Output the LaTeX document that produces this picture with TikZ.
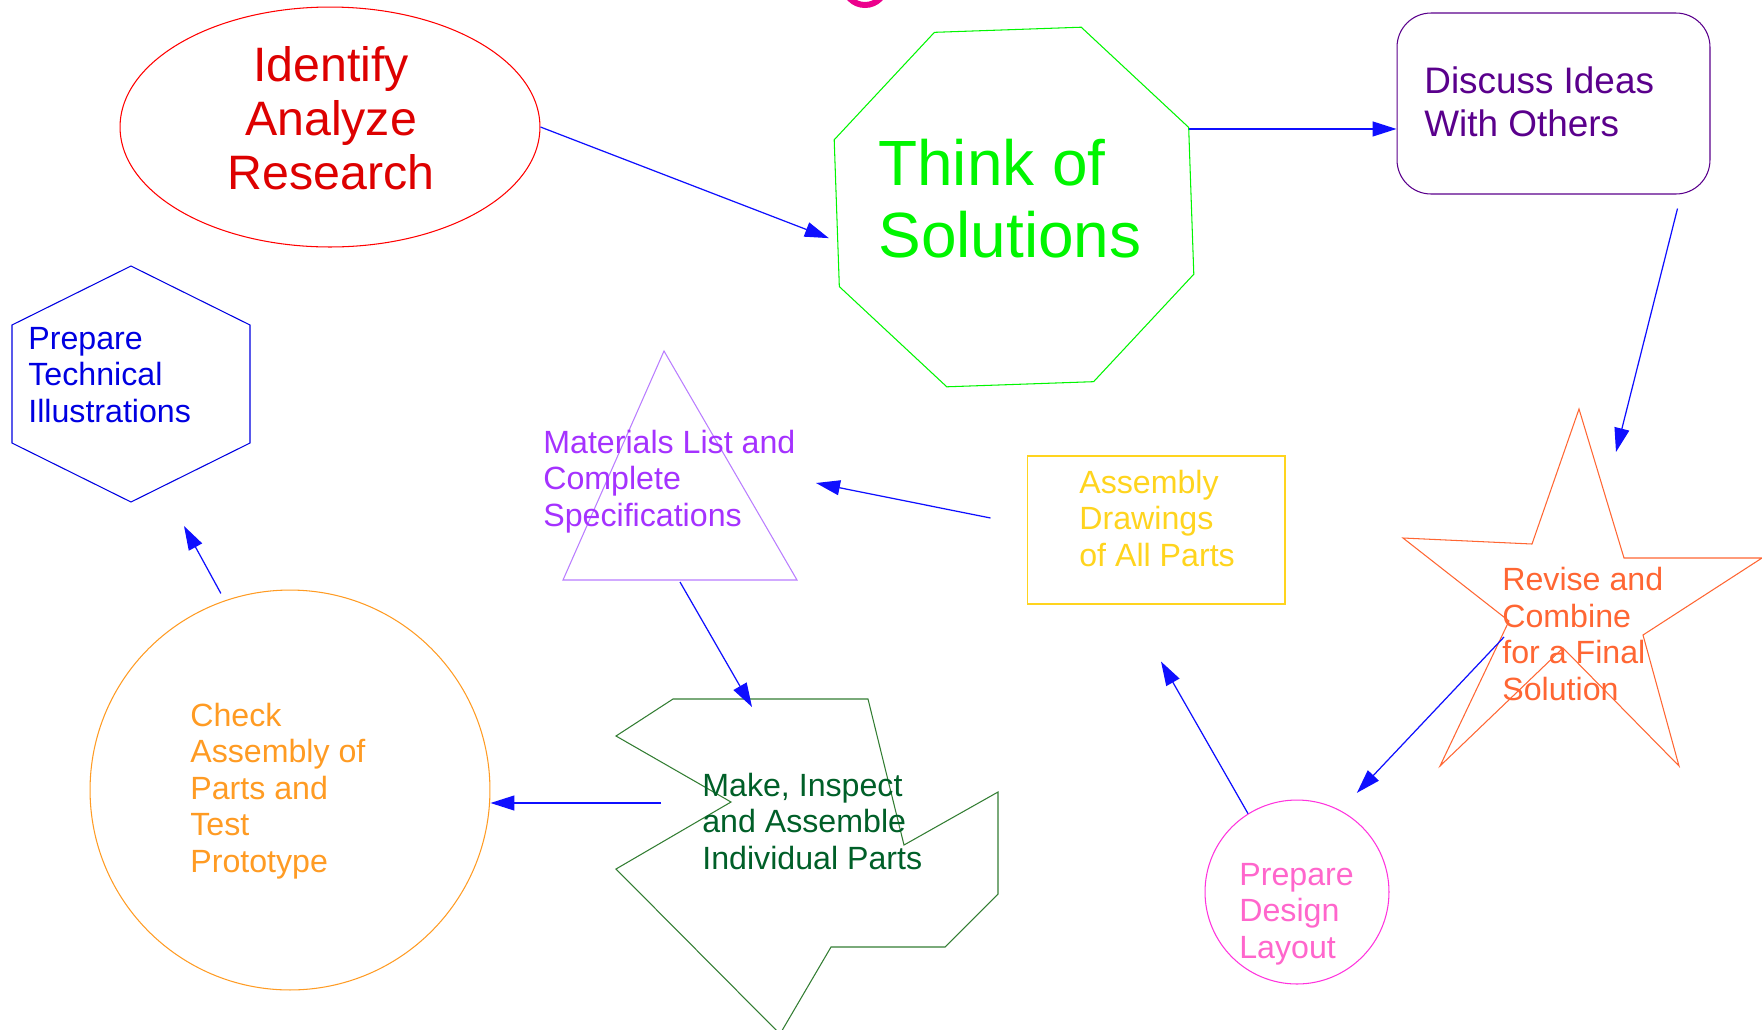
\documentclass[tikz,border=0pt]{standalone}
\usepackage{fontspec}
\setmainfont{Liberation Sans}
\usepackage{xcolor}
\usepackage{tikz}
\usetikzlibrary{arrows.meta,shapes.geometric}

\definecolor{idnred}{RGB}{221,0,0}
\definecolor{solgreen}{RGB}{0,245,0}
\definecolor{discpurple}{RGB}{90,0,140}
\definecolor{revorange}{RGB}{255,102,51}
\definecolor{drwgold}{RGB}{255,212,30}
\definecolor{matviolet}{RGB}{165,50,255}
\definecolor{matline}{RGB}{185,125,255}
\definecolor{illblue}{RGB}{0,0,225}
\definecolor{chkorange}{RGB}{255,155,35}
\definecolor{makgreen}{RGB}{0,95,40}
\definecolor{makline}{RGB}{50,125,50}
\definecolor{laypink}{RGB}{255,102,204}
\definecolor{layline}{RGB}{255,51,221}
\definecolor{flowblue}{RGB}{15,15,255}

\begin{document}
\begin{tikzpicture}[x=0.02cm, y=-0.02cm,
  outline/.style={line width=0.6pt},
  flow/.style={draw=flowblue, line width=0.7pt, -{Triangle[length=0.48cm,width=0.30cm]}},
  txt/.style={anchor=base west, align=left, inner sep=0pt, font=\fontsize{18.3pt}{20.7pt}\selectfont}]
\useasboundingbox (0,0) rectangle (1762,1029);
\clip (0,0) rectangle (1762,1029);

% Shapes
\draw[magenta, line width=0.12cm] (865,-16) circle[radius=21];
\node[draw=red, outline, ellipse, minimum width=8.4cm, minimum height=4.8cm] (idn) at (330,127) {};
\node[draw=solgreen, outline, regular polygon, regular polygon sides=8, shape border rotate=2, minimum size=7.68cm, inner sep=0pt] (sol) at (1014,207) {};
\node[draw=discpurple, outline, rounded corners=0.68cm, minimum width=6.26cm, minimum height=3.62cm] (disc) at (1553.5,103.5) {};
\draw[revorange, outline] (1579,409) -- (1532,544) -- (1403,538) -- (1509,621) -- (1440,766) -- (1563,648) -- (1679,766) -- (1643,635) -- (1762,558) -- (1624,558) -- cycle;
\coordinate (revT) at (1616,452);
\coordinate (revL) at (1504,637);
\node[draw=drwgold, outline, minimum width=5.16cm, minimum height=2.96cm] (drw) at (1156,530) {};
\node[draw=layline, outline, circle, minimum size=3.68cm, inner sep=0pt] (lay) at (1297,892) {};
\draw[matline, outline] (664,351) -- (797,580) -- (563,580) -- cycle;
\coordinate (matR) at (816,483);
\coordinate (matB) at (680,582);
\draw[makline, outline] (673,699) -- (868,699) -- (904,845) -- (998,792) -- (998,894) -- (945,947) -- (831,947) -- (780,1034) -- (616,869) -- (731,802) -- (616,736) -- cycle;
\coordinate (makT) at (752,707);
\coordinate (makL) at (661,803);
\node[draw=chkorange, outline, circle, minimum size=8cm, inner sep=0pt] (chk) at (290,790) {};
\draw[illblue, outline] (131,266) -- (250,325) -- (250,443) -- (131,502) -- (12,443) -- (12,325) -- cycle;
\coordinate (illB) at (184,526);

% Labels (placed at the baseline of the last line)
\node[txt, anchor=base, align=center, text=idnred, font=\fontsize{27.5pt}{30.6pt}\selectfont] (idnt) at (331,189) {Identify\\Analyze\\Research};
\node[txt, text=solgreen, font=\fontsize{36.4pt}{40.8pt}\selectfont] (solt) at (878,257) {Think of\\Solutions};
\node[txt, text=discpurple, font=\fontsize{21pt}{24.4pt}\selectfont] (disct) at (1424,136) {Discuss Ideas\\With Others};
\node[txt, text=revorange] (revt) at (1502,700) {Revise and\\Combine\\for a Final\\Solution};
\node[txt, text=drwgold] (drwt) at (1079,566) {Assembly\\Drawings\\of All Parts};
\node[txt, text=laypink] (layt) at (1239,958) {Prepare\\Design\\Layout};
\node[txt, text=matviolet] (matt) at (543,526) {Materials List and\\Complete\\Specifications};
\node[txt, text=makgreen] (makt) at (702,869) {Make, Inspect\\and Assemble\\Individual Parts};
\node[txt, text=chkorange] (chkt) at (190,872) {Check\\Assembly of\\Parts and\\Test\\Prototype};
\node[txt, text=illblue] (illt) at (28,422) {Prepare\\Technical\\Illustrations};

% Arrows
\draw[flow, shorten >=0.18cm] (idn.east) -- (sol.191.6);
\draw[flow] (sol.24.5) -- (sol.24.5 -| disc.west);
\draw[flow] ([xshift=-0.66cm,yshift=-0.28cm]disc.south east) -- (revT);
\draw[flow, shorten >=0.48cm] (revL) -- (lay.62);
\draw[flow] (lay.122) -- ([xshift=0.1cm,yshift=-1.14cm]drw.south);
\draw[flow] ([xshift=-0.72cm,yshift=0.24cm]drw.west) -- (matR);
\draw[flow] (matB) -- (makT);
\draw[flow] (makL) -- (chk.east |- makL);
\draw[flow, shorten <=0.16cm] (chk.109) -- (illB);
\end{tikzpicture}
\end{document}
